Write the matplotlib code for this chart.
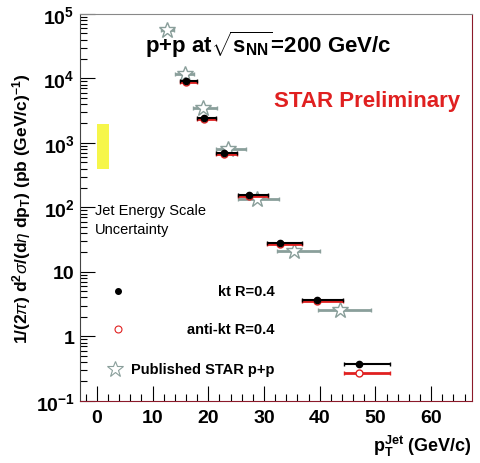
import numpy as np
import matplotlib
matplotlib.use('Agg')
import matplotlib.pyplot as plt
from matplotlib.ticker import FixedLocator, FixedFormatter, MultipleLocator

plt.rcParams['font.family'] = ['Liberation Sans', 'DejaVu Sans']
plt.rcParams['mathtext.fontset'] = 'custom'
plt.rcParams['mathtext.rm'] = 'Liberation Sans'
plt.rcParams['mathtext.it'] = 'Liberation Sans:italic'
plt.rcParams['mathtext.bf'] = 'Liberation Sans:bold'

# kt R=0.4 (filled black)
kt_pt = [16.0, 19.3, 22.9, 27.3, 32.9, 39.5, 47.1]
kt_lo = [15.0, 18.0, 21.3, 25.3, 30.6, 36.9, 44.4]
kt_hi = [18.0, 21.3, 25.2, 30.7, 36.9, 44.1, 52.7]
kt_y = [9250, 2440, 700, 156, 27.9, 3.68, 0.366]

# anti-kt R=0.4 (open red)
akt_pt = [16.0, 19.3, 22.9, 27.3, 32.9, 39.5, 47.1]
akt_y = [8900, 2370, 670, 150, 27.0, 3.55, 0.272]

# published STAR p+p (open stars)
pub_pt = [12.6, 15.9, 19.1, 23.5, 28.8, 35.4, 43.7]
pub_lo = [11.5, 14.1, 17.3, 21.3, 25.4, 32.4, 39.6]
pub_hi = [13.8, 17.5, 21.6, 26.7, 32.6, 40.0, 49.2]
pub_y = [56000, 11700, 3450, 807, 136, 21.4, 2.58]

# jet energy scale uncertainty band
jes_x = [0.0, 2.2]
jes_y = [400, 1950]

ytick_vals = [0.1, 1, 10, 100, 1e3, 1e4, 1e5]
ytick_labels = [r'$\mathbf{10^{-1}}$', '1', '10', r'$\mathbf{10^{2}}$',
                r'$\mathbf{10^{3}}$', r'$\mathbf{10^{4}}$', r'$\mathbf{10^{5}}$']

fig = plt.figure(figsize=(4.8, 4.64), dpi=100)
ax = fig.add_axes([0.167, 0.134, 0.816, 0.834])

star_col = '#8a9f9b'
red = '#e02020'

# uncertainty band
ax.fill_between(jes_x, jes_y[0], jes_y[1], color='#f6f64a', lw=0, zorder=1)

# published stars
pub_pt = np.array(pub_pt)
ax.errorbar(pub_pt, pub_y, xerr=[pub_pt - np.array(pub_lo), np.array(pub_hi) - pub_pt],
            fmt='*', ms=12, mfc='white', mec=star_col, mew=1.0, ecolor=star_col,
            elinewidth=2, capsize=1.5, zorder=2)

# anti-kt
akt_pt = np.array(akt_pt)
ax.errorbar(akt_pt, akt_y, xerr=[akt_pt - np.array(kt_lo), np.array(kt_hi) - akt_pt],
            fmt='o', ms=5, mfc='white', mec=red, mew=1.0, ecolor=red,
            elinewidth=2, capsize=1.5, zorder=3)

# kt
kt_pt = np.array(kt_pt)
ax.errorbar(kt_pt, kt_y, xerr=[kt_pt - np.array(kt_lo), np.array(kt_hi) - kt_pt],
            fmt='o', ms=4.5, mfc='black', mec='black', ecolor='black',
            elinewidth=1.5, capsize=1.5, zorder=4)

ax.set_yscale('log')
ax.set_ylim(0.1, 1e5)
ax.set_xlim(-3.0, 67.3)

ax.yaxis.set_major_locator(FixedLocator(ytick_vals))
ax.yaxis.set_major_formatter(FixedFormatter(ytick_labels))
ax.xaxis.set_major_locator(MultipleLocator(10))
ax.xaxis.set_minor_locator(MultipleLocator(2))
ax.tick_params(axis='both', which='major', direction='in', length=11, width=0.8,
               labelsize=14, top=False, right=False)
ax.tick_params(axis='both', which='minor', direction='in', length=5, width=0.8,
               top=False, right=False)
ax.tick_params(axis='y', pad=4)
ax.tick_params(axis='x', pad=6)
for lab in ax.get_xticklabels() + ax.get_yticklabels():
    lab.set_fontweight('bold')

ax.spines['bottom'].set_color('#8b1a2a')
ax.spines['right'].set_color('#8b1a2a')
ax.spines['top'].set_color('#888888')
ax.spines['left'].set_color('#444444')

ax.set_ylabel(r'1/(2$\pi$) d$^{\mathbf{2}}\sigma$/(d$\eta$ dp$_{\mathbf{T}}$) (pb (GeV/c)$^{\mathbf{-1}}$)',
              fontsize=12.5, fontweight='bold', labelpad=2)
ax.set_xlabel(r'p$_{\mathbf{T}}^{\mathbf{Jet}}$ (GeV/c)', fontsize=13,
              fontweight='bold', loc='right', labelpad=5)

ax.text(0.166, 0.902, r'p+p at$\sqrt{\mathbf{s}_{\mathbf{NN}}}$=200 GeV/c',
        transform=ax.transAxes, fontsize=16, fontweight='bold', va='baseline')
ax.text(0.969, 0.762, 'STAR Preliminary', transform=ax.transAxes, fontsize=16,
        fontweight='bold', color=red, ha='right', va='baseline')
ax.text(0.038, 0.51, 'Jet Energy Scale\nUncertainty', transform=ax.transAxes,
        fontsize=10.5, va='top', linespacing=1.4)

# legend
leg_x = 0.097
ax.plot([leg_x], [0.284], 'o', ms=4, color='black', transform=ax.transAxes, clip_on=False)
ax.plot([leg_x], [0.186], 'o', ms=5, mfc='white', mec=red, mew=0.8,
        transform=ax.transAxes, clip_on=False)
ax.plot([leg_x - 0.008], [0.083], '*', ms=12, mfc='white', mec=star_col, mew=0.8,
        transform=ax.transAxes, clip_on=False)
for yy, txt in [(0.284, 'kt R=0.4'), (0.186, 'anti-kt R=0.4'), (0.083, 'Published STAR p+p')]:
    ax.text(0.497, yy, txt, transform=ax.transAxes, fontsize=10.5, fontweight='bold',
            ha='right', va='center')

fig.savefig('out.png', dpi=100)
